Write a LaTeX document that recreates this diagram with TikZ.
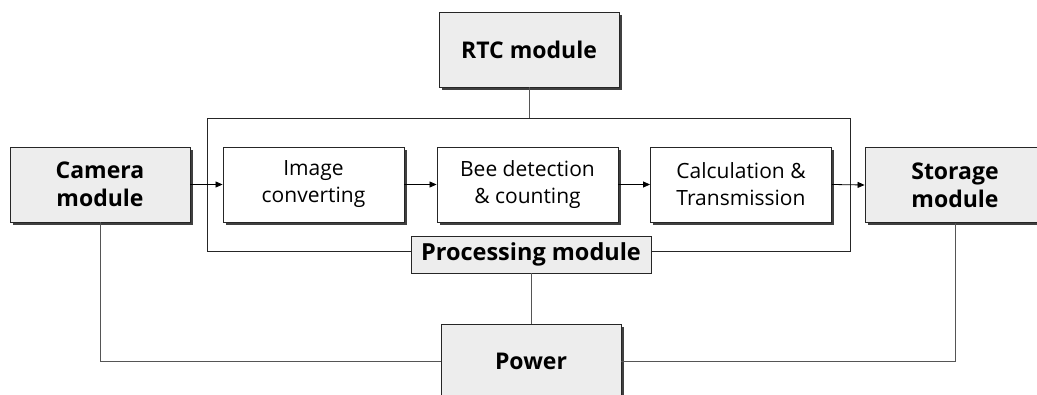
\documentclass[tikz,border=0pt]{standalone}
\usepackage{fontspec}
\setmainfont{Open Sans}
\usetikzlibrary{shadows,arrows.meta}
\definecolor{boxgray}{HTML}{EDEDED}
\definecolor{linegray}{HTML}{555555}
\tikzset{
  base/.style={draw=black!85, line width=0.9pt, inner sep=0pt, align=center,
    drop shadow={shadow xshift=2.8pt, shadow yshift=-2.8pt, fill=black!75, opacity=1}},
  modbox/.style={base, fill=boxgray, minimum width=180pt, minimum height=75pt,
    font=\fontsize{23}{28}\selectfont\bfseries},
  stepbox/.style={base, fill=white, minimum width=181pt, minimum height=75pt,
    font=\fontsize{21}{27}\selectfont},
  labelbox/.style={draw=black!85, line width=0.9pt, fill=boxgray, inner sep=0pt,
    minimum width=240pt, minimum height=37pt, font=\fontsize{23.5}{26}\selectfont\bfseries},
  flow/.style={draw=black, line width=0.8pt, -{Triangle[length=7pt,width=6pt]}},
  wire/.style={draw=linegray, line width=0.9pt},
}
\begin{document}
\begin{tikzpicture}[x=1pt,y=-1pt]
\useasboundingbox (0,0) rectangle (1037,395);
\clip (0,0) rectangle (1037,395);
% processing frame
\draw[line width=0.9pt, draw=black!85] (207,118) rectangle (850,251);
\coordinate (proctop) at (529,118);
\node[modbox] (cam) at (100,184.5) {Camera\\module};
\node[modbox] (rtc) at (529,49.5) {RTC module};
\node[stepbox] (img) at (313.5,184.5) {Image\\converting};
\node[stepbox] (bee) at (527.5,184.5) {Bee detection\\\& counting};
\node[stepbox] (calc) at (741,184.5) {Calculation \&\\Transmission};
\node[modbox] (sto) at (955,185) {Storage\\module};
\node[labelbox] (plab) at (531,254.5) {Processing module};
\node[modbox] (pow) at (531,361.5) {Power};
% connectors
\draw[flow] (cam.east) -- (img.west);
\draw[flow] (img.east) -- (bee.west);
\draw[flow] (bee.east) -- (calc.west);
\draw[flow] (calc.east) -- (sto.west);
\draw[wire] (rtc.south) -- (proctop);
\draw[wire] (plab.south) -- (pow.north);
\draw[wire] (cam.south) |- (pow.west);
\draw[wire] (sto.south) |- (pow.east);
\end{tikzpicture}
\end{document}
